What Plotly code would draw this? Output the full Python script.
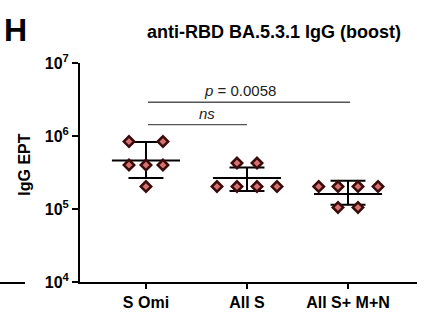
import math
import plotly.graph_objects as go

categories = ["S Omi", "All S", "All S+ M+N"]
# individual points (values) and horizontal jitter (category units)
vals_somi = [8.4e5, 8.4e5, 4.0e5, 4.0e5, 4.0e5, 2.03e5]
jit_somi = [-0.168, 0.168, -0.168, 0.0, 0.168, 0.0]
vals_alls = [4.26e5, 4.26e5, 2.03e5, 2.03e5, 2.03e5, 2.03e5]
jit_alls = [-0.099, 0.099, -0.297, -0.099, 0.099, 0.297]
vals_allsmn = [2.03e5, 2.03e5, 2.03e5, 2.03e5, 1.05e5, 1.05e5]
jit_allsmn = [-0.29, -0.099, 0.099, 0.297, -0.099, 0.099]
geo_mean = [4.62e5, 2.65e5, 1.61e5]
sd_upper = [8.3e5, 3.7e5, 2.43e5]
sd_lower = [2.65e5, 1.77e5, 1.14e5]
y_tickvals = [1e4, 1e5, 1e6, 1e7]
y_ticktext = ["<b>10<sup>4</sup></b>", "<b>10<sup>5</sup></b>", "<b>10<sup>6</sup></b>", "<b>10<sup>7</sup></b>"]
# (group a, group b, bracket value, label, label x position)
comparisons = [(0, 2, 2.9e6, "<i>p</i> = 0.0058", 0.93), (0, 1, 1.43e6, "<i>ns</i>", 0.6)]

FONT = "Liberation Sans, Arial, sans-serif"
fig = go.Figure()

mean_hw = 0.337
cap_hw = 0.173
for i in range(3):
    fig.add_trace(go.Scatter(x=[i - mean_hw, i + mean_hw], y=[geo_mean[i]] * 2, mode="lines",
                             line=dict(color="black", width=2), showlegend=False, hoverinfo="skip"))
    fig.add_trace(go.Scatter(x=[i, i], y=[sd_lower[i], sd_upper[i]], mode="lines",
                             line=dict(color="black", width=2), showlegend=False, hoverinfo="skip"))
    for v in (sd_lower[i], sd_upper[i]):
        fig.add_trace(go.Scatter(x=[i - cap_hw, i + cap_hw], y=[v, v], mode="lines",
                                 line=dict(color="black", width=2), showlegend=False, hoverinfo="skip"))

for i, (vals, jit) in enumerate([(vals_somi, jit_somi), (vals_alls, jit_alls), (vals_allsmn, jit_allsmn)]):
    fig.add_trace(go.Scatter(x=[i + j for j in jit], y=vals, mode="markers",
                             marker=dict(symbol="diamond", size=8, color="#d47272",
                                         line=dict(color="#3b0b0b", width=2.5)),
                             showlegend=False))

for a, b, yv, txt, tx in comparisons:
    fig.add_trace(go.Scatter(x=[a + 0.02, b + 0.02 * (b == 2)], y=[yv, yv], mode="lines",
                             line=dict(color="#555555", width=1.3), showlegend=False, hoverinfo="skip"))
    fig.add_annotation(x=tx, y=math.log10(yv), xref="x", yref="y",
                       text=txt, showarrow=False, yanchor="bottom", yshift=1,
                       xanchor="center",
                       font=dict(family=FONT, size=15, color="#222222"))

fig.update_layout(
    width=433, height=322,
    margin=dict(l=80, r=16, t=63, b=40),
    plot_bgcolor="white", paper_bgcolor="white",
    font=dict(family=FONT, color="black"),
    xaxis=dict(range=[-0.653, 2.683], tickvals=[0, 1, 2],
               ticktext=["<b>%s</b>" % c for c in categories],
               showline=True, linecolor="black", linewidth=2, ticks="outside",
               ticklen=5, tickwidth=2, tickcolor="black", showgrid=False, zeroline=False,
               tickfont=dict(size=16, family=FONT, color="black")),
    yaxis=dict(type="log", range=[4, 7], tickvals=y_tickvals, ticktext=y_ticktext,
               showline=True, linecolor="black", linewidth=2, ticks="outside",
               ticklen=6, tickwidth=2, tickcolor="black", showgrid=False, zeroline=False,
               tickfont=dict(size=16, family=FONT, color="black")),
    showlegend=False,
)

fig.add_annotation(xref="paper", yref="paper", x=(25 - 80) / 337, y=(282 - 165) / 218.5,
                   text="<b>IgG EPT</b>", textangle=-90, showarrow=False,
                   xanchor="center", yanchor="middle",
                   font=dict(size=16, family=FONT, color="black"))
fig.add_annotation(xref="paper", yref="paper", x=(274 - 80) / 337, y=(282 - 33) / 218.5,
                   text="<b>anti-RBD BA.5.3.1 IgG (boost)</b>", showarrow=False,
                   xanchor="center", yanchor="middle",
                   font=dict(size=18, family=FONT, color="black"))
fig.add_annotation(xref="paper", yref="paper", x=(2 - 80) / 337, y=(282 - 31) / 218.5, text="<b>H</b>",
                   showarrow=False, xanchor="left", yanchor="middle",
                   font=dict(size=32, family=FONT, color="black"))
fig.add_shape(type="line", xref="paper", yref="paper", x0=(0 - 80) / 337, x1=(25 - 80) / 337,
              y0=(282 - 283) / 218.5, y1=(282 - 283) / 218.5, line=dict(color="black", width=2))

fig.write_html("out.html")
